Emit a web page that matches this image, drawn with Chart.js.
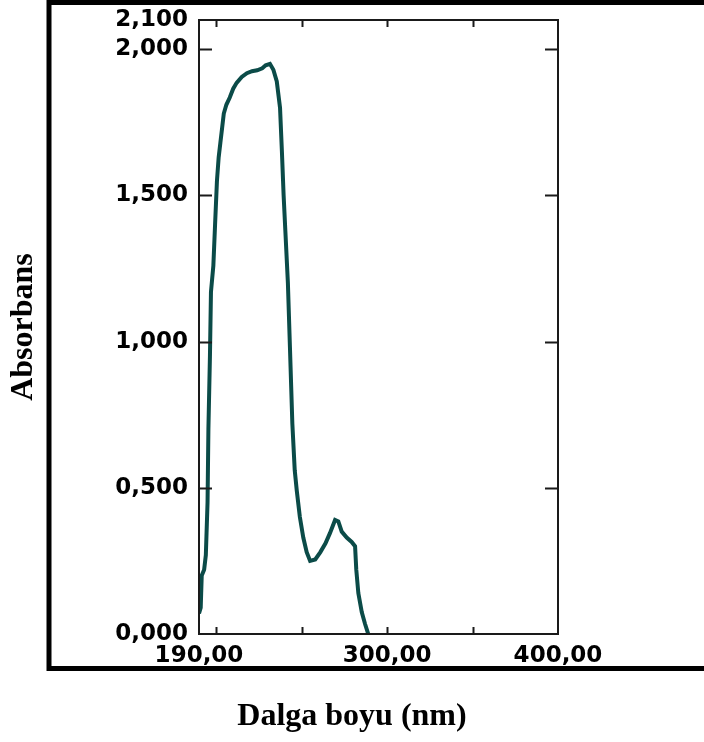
<!DOCTYPE html>
<html>
<head>
<meta charset="utf-8">
<script src="https://cdn.jsdelivr.net/npm/chart.js@4.4.0/dist/chart.umd.min.js"></script>
<style>
  html, body { margin: 0; padding: 0; background: #fff; }
</style>
</head>
<body>
<canvas id="lineChart" width="704" height="742"></canvas>
<script>
// dalga boyu (nm) ve absorbans
var wavelengths = [190, 191, 191.6, 193, 194, 195, 195.5, 196.4, 197, 198.4, 199.4, 200.5, 201.5, 202.5, 203.5,
    204.5, 206, 208, 210, 212, 215, 218, 221, 224, 227, 229, 231.5, 233.5, 235.5, 237.4, 238.5, 239.5, 240.5,
    242, 243.2, 244.6, 246, 247.2, 249, 251, 253, 255, 258, 261, 264, 266.6, 269.6, 271.5, 273.5, 276.4,
    279.3, 281.3, 282, 283.2, 285.2, 287.1, 289];
var absorbance = [0.07, 0.09, 0.20, 0.22, 0.27, 0.45, 0.70, 0.95, 1.17, 1.26, 1.40, 1.55, 1.63, 1.68, 1.73,
    1.78, 1.81, 1.835, 1.865, 1.885, 1.905, 1.918, 1.925, 1.928, 1.935, 1.945, 1.95, 1.93, 1.89, 1.80, 1.65, 1.50, 1.38,
    1.20, 0.98, 0.72, 0.56, 0.49, 0.40, 0.33, 0.28, 0.25, 0.255, 0.28, 0.31, 0.345, 0.39, 0.385, 0.35, 0.33,
    0.315, 0.30, 0.22, 0.14, 0.075, 0.035, 0.0];

var xLabelValues = [190, 300, 400];
var xTickMarks = [200, 250, 300, 350];
var yLabelValues = [0, 0.5, 1, 1.5, 2, 2.1];
var yTickMarks = [0.5, 1, 1.5, 2];

var tickFont = { family: "'DejaVu Sans', sans-serif", size: 23, weight: 'bold' };
var titleFont = { family: "'Liberation Serif', 'Times New Roman', serif", size: 32, weight: 'bold' };

// dış çerçeve, grafik kutusu ve içe dönük tik çizgileri
var framePlugin = {
    id: 'framePlugin',
    beforeDraw: function (chart) {
        var ctx = chart.ctx;
        ctx.save();
        ctx.fillStyle = '#fff';
        ctx.fillRect(0, 0, chart.width, chart.height);
        ctx.strokeStyle = '#000';
        ctx.lineWidth = 5;
        ctx.strokeRect(49, 2.5, 700, 666);
        ctx.restore();
    },
    afterDatasetsDraw: function (chart) {
        var ctx = chart.ctx;
        var a = chart.chartArea;
        var xs = chart.scales.x, ys = chart.scales.y;
        ctx.save();
        ctx.strokeStyle = '#1a1a1a';
        ctx.lineWidth = 2;
        ctx.strokeRect(a.left, a.top, a.right - a.left, a.bottom - a.top);
        ctx.beginPath();
        xTickMarks.forEach(function (v) {
            var px = Math.round(xs.getPixelForValue(v)) + 0.5;
            ctx.moveTo(px, a.bottom); ctx.lineTo(px, a.bottom - 7);
            ctx.moveTo(px, a.top); ctx.lineTo(px, a.top + 7);
        });
        yTickMarks.forEach(function (v) {
            var py = Math.round(ys.getPixelForValue(v)) + 0.5;
            ctx.moveTo(a.left, py); ctx.lineTo(a.left + 13, py);
            ctx.moveTo(a.right, py); ctx.lineTo(a.right - 13, py);
        });
        ctx.stroke();
        ctx.restore();
    }
};

var chartData = {
    datasets: [{
        label: 'Absorbans',
        data: wavelengths.map(function (w, i) { return { x: w, y: absorbance[i] }; }),
        borderColor: '#0b4b48',
        borderWidth: 4,
        pointRadius: 0,
        tension: 0,
        fill: false
    }]
};

var chartOptions = {
    responsive: false,
    animation: false,
    devicePixelRatio: 1,
    layout: { padding: { top: 20, left: 0, right: 0, bottom: 0 } },
    plugins: {
        legend: { display: false },
        tooltip: { enabled: false },
        title: {
            display: true,
            text: 'Dalga boyu (nm)',
            position: 'bottom',
            color: '#000',
            font: titleFont,
            padding: { top: 0, bottom: 6 }
        }
    },
    scales: {
        x: {
            type: 'linear',
            min: 190,
            max: 400,
            grid: { display: false, drawTicks: false },
            border: { display: false },
            afterBuildTicks: function (s) {
                s.ticks = xLabelValues.map(function (v) { return { value: v }; });
            },
            afterFit: function (s) { s.height = 63.6; s.paddingLeft = 0; s.paddingRight = 0; },
            ticks: {
                autoSkip: false,
                maxRotation: 0,
                padding: 8,
                color: '#000',
                font: tickFont,
                callback: function (v) { return Number(v).toFixed(2).replace('.', ','); }
            }
        },
        y: {
            min: 0,
            max: 2.1,
            grid: { display: false, drawTicks: false },
            border: { display: false },
            afterBuildTicks: function (s) {
                s.ticks = yLabelValues.map(function (v) { return { value: v }; });
            },
            afterFit: function (s) { s.width = 199; s.paddingTop = 0; s.paddingBottom = 0; },
            ticks: {
                autoSkip: false,
                padding: 11,
                color: '#000',
                font: tickFont,
                callback: function (v) { return Number(v).toFixed(3).replace('.', ','); }
            },
            title: {
                display: true,
                text: 'Absorbans',
                color: '#000',
                font: titleFont,
                padding: { top: 5, bottom: 0 }
            }
        },
        y2: {
            position: 'right',
            min: 0,
            max: 2.1,
            grid: { display: false, drawTicks: false },
            border: { display: false },
            ticks: { display: false },
            afterFit: function (s) { s.width = 146; s.paddingTop = 0; s.paddingBottom = 0; }
        }
    }
};

var ctx = document.getElementById('lineChart').getContext('2d');
var lineChart = new Chart(ctx, {
    type: 'line',
    data: chartData,
    options: chartOptions,
    plugins: [framePlugin]
});
</script>
</body>
</html>
